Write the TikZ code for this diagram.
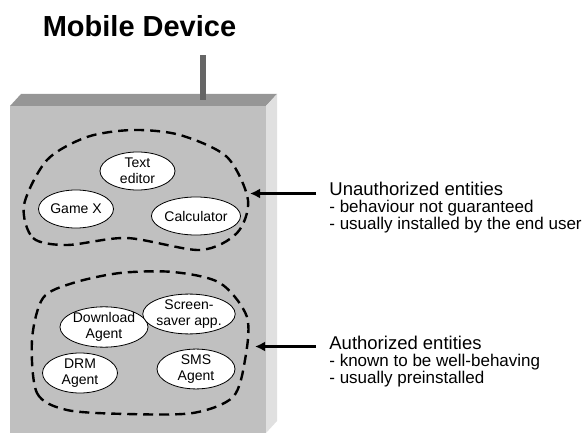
\documentclass[tikz,border=0pt]{standalone}
\usepackage{fontspec}
\setmainfont{Liberation Sans}
\usetikzlibrary{shapes.geometric,arrows.meta}

\definecolor{frontface}{HTML}{C0C0C0}
\definecolor{topface}{HTML}{969696}
\definecolor{sideface}{HTML}{E0E0E0}
\definecolor{antenna}{HTML}{666666}

\begin{document}
\begin{tikzpicture}[x=1pt, y=-1pt, thick,
    main/.style = {draw, ellipse, fill=white, line width=0.8pt, minimum width=75pt, minimum height=38pt, inner sep=0pt, align=center, font=\fontsize{14}{15.5}\selectfont},
    blob/.style = {line width=2.4pt, dash pattern=on 10pt off 6pt},
    arr/.style = {line width=2.8pt, -{Latex[length=10pt,width=10pt]}},
    note/.style = {anchor=north west, inner sep=0pt, align=left, font=\fontsize{17}{17}\selectfont}]
    \useasboundingbox (0,0) rectangle (582,433);
    \node[anchor=base, inner sep=0pt, font=\fontsize{29}{30}\selectfont\bfseries] (title) at (139.5,37) {Mobile Device};
    % device
    \fill[frontface] (10,106) rectangle (266,433);
    \fill[topface] (10,106) -- (21,94) -- (277,94) -- (266,106) -- cycle;
    \fill[sideface] (266,106) -- (277,94) -- (277,421) -- (266,433) -- cycle;
    \fill[antenna] (200,55) rectangle (206,100);
    % groups
    \draw[blob] plot[smooth cycle] coordinates {(24,205) (33,238) (67,245) (127,238) (200,250) (237,233) (248,200) (227,157) (180,135) (133,130) (87,137) (47,160)};
    \draw[blob] plot[smooth cycle] coordinates {(32,340) (37,393) (67,410) (127,414) (193,413) (233,397) (245,360) (247,317) (220,283) (173,272) (120,273) (73,283) (43,298)};
    \node[main] (1) at (137.5,171) {Text\\editor};
    \node[main] (2) at (76,209) {Game X};
    \node[main, minimum width=78pt] (3) at (196,216) {Calculator};
    \node[main, minimum height=40pt] (4) at (104,327) {Download\\Agent};
    \node[main] (5) at (189,314) {Screen-\\saver app.};
    \node[main, minimum height=40pt] (6) at (80,373) {DRM\\Agent};
    \node[main, minimum width=78pt] (7) at (196,369) {SMS\\Agent};
    % notes
    \node[note] (unauth) at (329,181.5) {{\fontsize{18.5}{17}\selectfont Unauthorized entities}\\- behaviour not guaranteed\\- usually installed by the end user};
    \node[note] (auth) at (329,335.5) {{\fontsize{18.5}{17}\selectfont Authorized entities}\\- known to be well-behaving\\- usually preinstalled};
    \coordinate (up) at (250,193.5);
    \coordinate (low) at (255,346.5);
    \draw[arr] (unauth.west |- up) ++(-13,0) -- (up);
    \draw[arr] (auth.west |- low) ++(-13,0) -- (low);
\end{tikzpicture}
\end{document}
